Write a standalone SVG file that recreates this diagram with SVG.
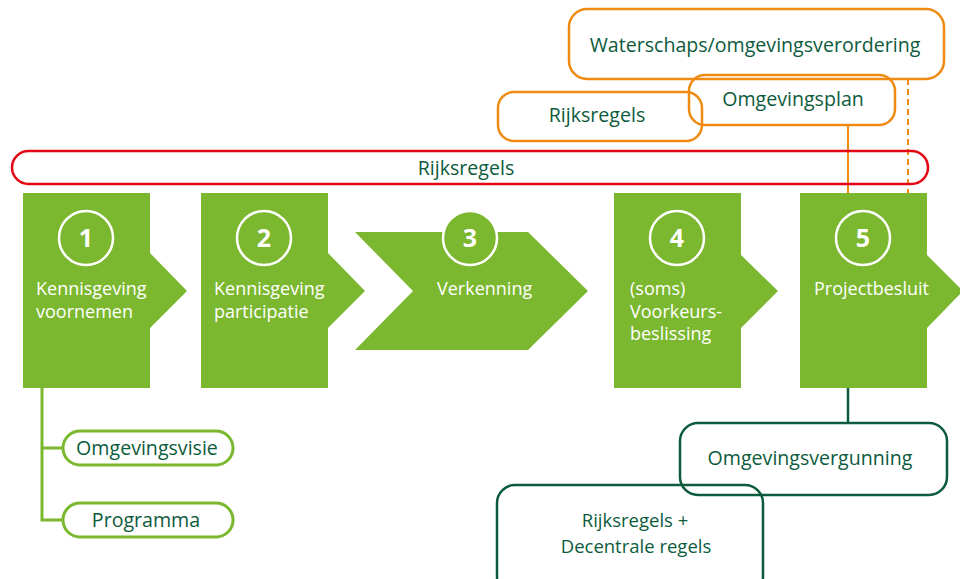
<svg xmlns="http://www.w3.org/2000/svg" width="960" height="579" viewBox="0 0 960 579">
<style>
.step{fill:#7cb82f}
.num{fill:#7cb82f;stroke:#fff;stroke-width:2.5}
.numt{fill:#fff;font-family:"Open Sans","Noto Sans",sans-serif;font-weight:700;font-size:25px;text-anchor:middle}
.wt{fill:#fff;font-family:"Open Sans","Noto Sans",sans-serif;font-size:18px}
.dt{fill:#0d5b3d;font-family:"Open Sans","Noto Sans",sans-serif;font-size:19.6px;text-anchor:middle}
.dt2{fill:#0d5b3d;font-family:"Open Sans","Noto Sans",sans-serif;font-size:18.5px;text-anchor:middle}
.orange{fill:none;stroke:#ef8a12;stroke-width:2.5}
.red{fill:none;stroke:#e30613;stroke-width:2.5}
.dark{fill:none;stroke:#0d5b3d;stroke-width:2.5}
.lg{fill:none;stroke:#7cb82f;stroke-width:3}
</style>
<rect width="960" height="579" fill="#fff"/>
<g id="connectors">
<line x1="848" y1="125" x2="848" y2="193" stroke="#ef8a12" stroke-width="2"/>
<line x1="908" y1="79" x2="908" y2="193" stroke="#ef8a12" stroke-width="2" stroke-dasharray="6,4"/>
<line x1="848" y1="388" x2="848" y2="423" stroke="#0d5b3d" stroke-width="2.5"/>
<polyline points="42,388 42,520 63,520" class="lg"/>
<line x1="42" y1="448" x2="63" y2="448" class="lg"/>
</g>
<g id="waterschaps">
<rect x="569" y="9" width="375" height="70" rx="18" class="orange"/>
<text x="755" y="52" class="dt">Waterschaps/omgevingsverordering</text>
</g>
<g id="rijksregels-orange">
<rect x="498" y="92" width="204" height="49" rx="16" class="orange"/>
<text x="597" y="122" class="dt">Rijksregels</text>
</g>
<g id="omgevingsplan">
<rect x="689" y="75" width="206" height="50" rx="16" class="orange"/>
<text x="793" y="106" class="dt">Omgevingsplan</text>
</g>
<g id="rijksregels-red">
<rect x="12" y="151" width="916" height="33" rx="16.5" class="red"/>
<text x="466" y="175" class="dt">Rijksregels</text>
</g>
<g id="step1">
<polygon class="step" points="23,193 150,193 150,253 187,291 150,328 150,388 23,388"/>
<circle class="num" cx="86" cy="238" r="27"/>
<text class="numt" x="86" y="247">1</text>
<text class="wt" x="36" y="295">Kennisgeving</text>
<text class="wt" x="36" y="318">voornemen</text>
</g>
<g id="step2">
<polygon class="step" points="201,193 328,193 328,253 365,291 328,328 328,388 201,388"/>
<circle class="num" cx="264" cy="238" r="27"/>
<text class="numt" x="264" y="247">2</text>
<text class="wt" x="214" y="295">Kennisgeving</text>
<text class="wt" x="214" y="318">participatie</text>
</g>
<g id="step3">
<polygon class="step" points="355,232 528,232 588,291 528,350 355,350 413,291"/>
<circle class="num" cx="470" cy="238" r="27"/>
<text class="numt" x="470" y="247">3</text>
<text class="wt" x="437" y="295">Verkenning</text>
</g>
<g id="step4">
<polygon class="step" points="614,193 741,193 741,255 778,291 741,328 741,388 614,388"/>
<circle class="num" cx="677" cy="238" r="27"/>
<text class="numt" x="677" y="247">4</text>
<text class="wt" x="630" y="295">(soms)</text>
<text class="wt" x="630" y="318">Voorkeurs-</text>
<text class="wt" x="630" y="340">beslissing</text>
</g>
<g id="step5">
<polygon class="step" points="800,193 927,193 927,255 963,291 927,328 927,388 800,388"/>
<circle class="num" cx="863" cy="238" r="27"/>
<text class="numt" x="863" y="247">5</text>
<text class="wt" x="814" y="295">Projectbesluit</text>
</g>
<g id="omgevingsvisie">
<rect x="63" y="431" width="170" height="34" rx="17" class="lg"/>
<text x="147" y="455" class="dt">Omgevingsvisie</text>
</g>
<g id="programma">
<rect x="63" y="503" width="170" height="34" rx="17" class="lg"/>
<text x="146" y="527" class="dt">Programma</text>
</g>
<g id="omgevingsvergunning">
<rect x="680" y="423" width="267" height="72" rx="18" class="dark"/>
<text x="810" y="465" class="dt">Omgevingsvergunning</text>
</g>
<g id="decentrale">
<rect x="497" y="485" width="266" height="110" rx="18" class="dark"/>
<text x="635" y="527" class="dt2">Rijksregels +</text>
<text x="636" y="553" class="dt2">Decentrale regels</text>
</g>
</svg>
